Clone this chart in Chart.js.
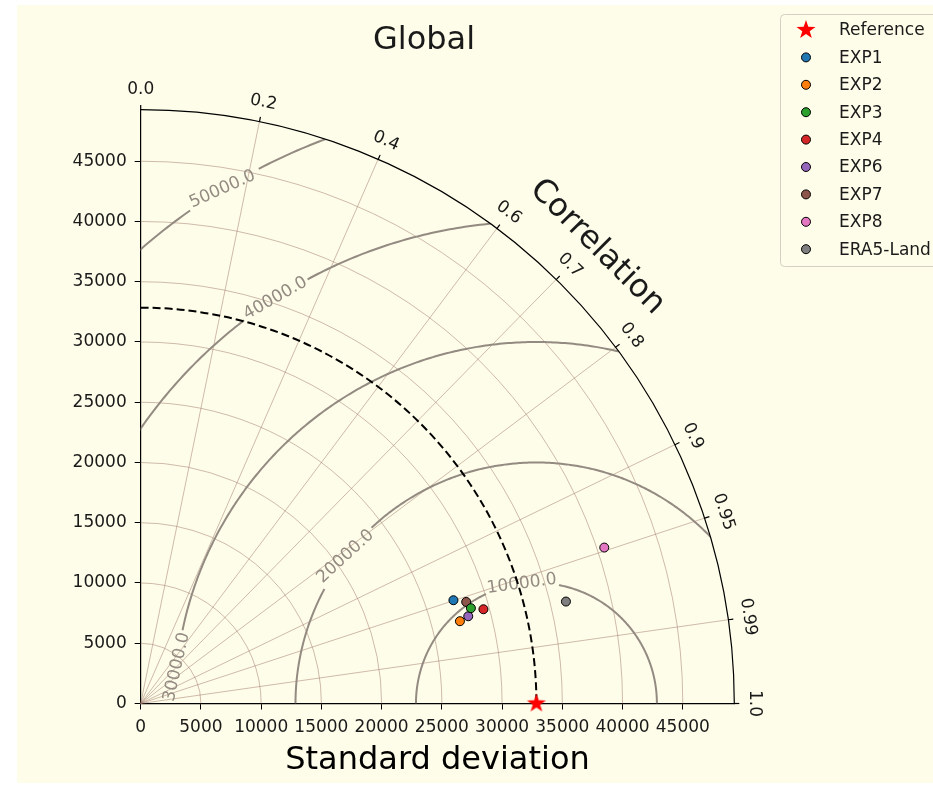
<!DOCTYPE html>
<html lang="en">
<head>
<meta charset="UTF-8">
<title>Global - Taylor diagram</title>
<style>
  html, body { margin: 0; padding: 0; background: #fff; }
  #wrap { width: 933px; height: 785px; position: relative; }
</style>
</head>
<body>
<div id="wrap"><canvas id="taylor"></canvas></div>

<script src="https://cdn.jsdelivr.net/npm/chart.js"></script>
<script>
  // reference std, the diagram runs out to 1.5x of it
  const refStd = 32850;
  const maxStd = 49275;

  const stdTicks = [0, 5000, 10000, 15000, 20000, 25000, 30000, 35000, 40000, 45000];
  const corrTicks = [0, 0.2, 0.4, 0.6, 0.7, 0.8, 0.9, 0.95, 0.99, 1.0];
  const corrLabels = ['0.0', '0.2', '0.4', '0.6', '0.7', '0.8', '0.9', '0.95', '0.99', '1.0'];
  const rmsLevels = [10000, 20000, 30000, 40000, 50000];

  const models = ['EXP1', 'EXP2', 'EXP3', 'EXP4', 'EXP6', 'EXP7', 'EXP8', 'ERA5-Land'];
  const modelX = [25960, 26500, 27410, 28450, 27190, 27020, 38480, 35300];
  const modelY = [8570, 6830, 7910, 7820, 7240, 8430, 12940, 8460];
  const modelColors = ['#1f77b4', '#ff7f0e', '#2ca02c', '#d62728', '#9467bd', '#8c564b', '#e377c2', '#7f7f7f'];

  const FONT = '"DejaVu Sans", sans-serif';
  const bgColor = '#fefde9';
  const gridColor = 'rgba(160, 120, 105, 0.5)';
  const rmsColor = '#938a81';

  // red star marker like matplotlib '*'
  const starImg = (function () {
    const c = document.createElement('canvas');
    c.width = 22; c.height = 22;
    const g = c.getContext('2d');
    g.fillStyle = '#ff0000';
    g.beginPath();
    for (let i = 0; i < 10; i++) {
      const r = i % 2 ? 3.9 : 10;
      const a = -Math.PI / 2 + i * Math.PI / 5;
      g.lineTo(11 + r * Math.cos(a), 11 + r * Math.sin(a));
    }
    g.closePath();
    g.fill();
    return c;
  })();

  const datasets = [{
    label: 'Reference',
    data: [{ x: refStd, y: 0 }],
    pointStyle: starImg,
    pointRadius: 10,
    backgroundColor: '#ff0000',
    borderColor: '#ff0000',
    clip: false
  }];
  models.forEach(function (m, i) {
    datasets.push({
      label: m,
      data: [{ x: modelX[i], y: modelY[i] }],
      pointStyle: 'circle',
      pointRadius: 4.5,
      borderWidth: 1,
      borderColor: '#000',
      backgroundColor: modelColors[i],
      clip: false
    });
  });

  // where the contour labels sit on each circle (deg around ref) and their rotation
  const rmsLabelPos = {
    10000: [97, -7.6],
    20000: [142.4, -42.4],
    30000: [174.2, -77.3],
    40000: [122.8, -29.5],
    50000: [121.4, -24.2]
  };

  const taylorPlugin = {
    id: 'taylor',
    beforeDraw(chart) {
      const ctx = chart.ctx;
      ctx.save();
      ctx.fillStyle = '#ffffff';
      ctx.fillRect(0, 0, chart.width, chart.height);
      ctx.fillStyle = bgColor;
      ctx.fillRect(17, 5, chart.width - 17, chart.height - 7);
      ctx.restore();
    },
    beforeDatasetsDraw(chart) {
      const ctx = chart.ctx;
      const xs = chart.scales.x, ys = chart.scales.y;
      const px = v => xs.getPixelForValue(v);
      const py = v => ys.getPixelForValue(v);
      const ox = px(0), oy = py(0);
      const kx = px(1000) - ox;
      const rPx = px(maxStd) - ox;

      ctx.save();

      // std arcs
      ctx.strokeStyle = gridColor;
      ctx.lineWidth = 1;
      stdTicks.forEach(function (s) {
        if (s === 0) return;
        ctx.beginPath();
        ctx.ellipse(ox, oy, px(s) - ox, oy - py(s), 0, -Math.PI / 2, 0);
        ctx.stroke();
      });
      // correlation rays
      corrTicks.forEach(function (c) {
        if (c === 0 || c === 1) return;
        const t = Math.acos(c);
        ctx.beginPath();
        ctx.moveTo(ox, oy);
        ctx.lineTo(px(maxStd * Math.cos(t)), py(maxStd * Math.sin(t)));
        ctx.stroke();
      });

      // centred RMS difference contours, clipped to the quarter disc
      ctx.save();
      ctx.beginPath();
      ctx.moveTo(ox, oy);
      ctx.ellipse(ox, oy, px(maxStd) - ox, oy - py(maxStd), 0, -Math.PI / 2, 0);
      ctx.closePath();
      ctx.clip();
      ctx.font = '17px ' + FONT;
      ctx.strokeStyle = rmsColor;
      ctx.lineWidth = 2;
      rmsLevels.forEach(function (R) {
        const txt = R.toFixed(1);
        const phi = rmsLabelPos[R][0] * Math.PI / 180;
        const half = ctx.measureText(txt).width / 2 + 2;
        const gap = half / (R * kx / 1000);
        ctx.beginPath();
        let pen = false;
        for (let i = 0; i <= 400; i++) {
          const a = Math.PI * i / 400;
          if (Math.abs(a - phi) < gap) { pen = false; continue; }
          const X = px(refStd + R * Math.cos(a)), Y = py(R * Math.sin(a));
          if (pen) ctx.lineTo(X, Y); else ctx.moveTo(X, Y);
          pen = true;
        }
        ctx.stroke();
      });
      ctx.restore();

      ctx.font = '17px ' + FONT;
      ctx.fillStyle = rmsColor;
      ctx.textAlign = 'center';
      ctx.textBaseline = 'middle';
      rmsLevels.forEach(function (R) {
        const pos = rmsLabelPos[R];
        const phi = pos[0] * Math.PI / 180;
        ctx.save();
        ctx.translate(px(refStd + R * Math.cos(phi)), py(R * Math.sin(phi)));
        ctx.rotate(pos[1] * Math.PI / 180);
        ctx.fillText(R.toFixed(1), 0, 0);
        ctx.restore();
      });

      // reference std arc (dashed)
      ctx.strokeStyle = '#000';
      ctx.lineWidth = 2;
      ctx.setLineDash([8, 4]);
      ctx.beginPath();
      ctx.ellipse(ox, oy, px(refStd) - ox, oy - py(refStd), 0, -Math.PI / 2, 0);
      ctx.stroke();
      ctx.setLineDash([]);

      // outer arc = correlation axis
      ctx.lineWidth = 1.2;
      ctx.beginPath();
      ctx.ellipse(ox, oy, px(maxStd) - ox, oy - py(maxStd), 0, -Math.PI / 2, 0);
      ctx.stroke();

      ctx.font = '17px ' + FONT;
      ctx.fillStyle = '#1a1a1a';
      corrTicks.forEach(function (c, i) {
        const t = Math.acos(c);
        const dx = Math.cos(t), dy = -Math.sin(t);
        ctx.beginPath();
        ctx.moveTo(ox + dx * rPx, oy + dy * rPx);
        ctx.lineTo(ox + dx * (rPx + 5), oy + dy * (rPx + 5));
        ctx.stroke();
        ctx.save();
        ctx.translate(ox + dx * (rPx + 20), oy + dy * (rPx + 20));
        ctx.rotate(Math.PI / 2 - t);
        ctx.fillText(corrLabels[i], 0, 0);
        ctx.restore();
      });

      // axis name along the arc
      ctx.font = '32px ' + FONT;
      ctx.save();
      ctx.translate(ox + Math.SQRT1_2 * (rPx + 52), oy - Math.SQRT1_2 * (rPx + 52));
      ctx.rotate(Math.PI / 4);
      ctx.fillText('Correlation', 0, 0);
      ctx.restore();

      ctx.textBaseline = 'alphabetic';
      ctx.fillText('Global', 424, 49);

      ctx.restore();
    },
    afterDraw(chart) {
      // legend, same look as the matplotlib one
      const ctx = chart.ctx;
      const ds = chart.data.datasets;
      ctx.save();
      ctx.fillStyle = bgColor;
      ctx.strokeStyle = '#d6cfc4';
      ctx.lineWidth = 1;
      ctx.beginPath();
      ctx.roundRect(780.5, 14.5, 200, 252, 4);
      ctx.fill();
      ctx.stroke();
      ctx.font = '17px ' + FONT;
      ctx.textBaseline = 'middle';
      ds.forEach(function (d, i) {
        const y = 30 + i * 27.4;
        if (d.pointStyle === starImg) {
          ctx.drawImage(starImg, 806 - 11, y - 11);
        } else {
          ctx.beginPath();
          ctx.arc(806, y, 4.5, 0, Math.PI * 2);
          ctx.fillStyle = d.backgroundColor;
          ctx.fill();
          ctx.strokeStyle = '#000';
          ctx.stroke();
        }
        ctx.fillStyle = '#1a1a1a';
        ctx.fillText(d.label, 839, y + 1);
      });
      ctx.restore();
    }
  };

  const tickFont = { family: FONT, size: 17 };

  new Chart(document.getElementById('taylor'), {
    type: 'scatter',
    data: { datasets: datasets },
    plugins: [taylorPlugin],
    options: {
      responsive: true,
      maintainAspectRatio: false,
      animation: false,
      events: [],
      layout: { padding: { left: 40.7, right: 198.7, top: 109.7, bottom: 1.5 } },
      plugins: { legend: { display: false }, tooltip: { enabled: false } },
      scales: {
        x: {
          type: 'linear',
          min: 0,
          max: maxStd,
          afterBuildTicks: s => { s.ticks = stdTicks.map(v => ({ value: v })); },
          afterFit: s => { s.height = 80; },
          ticks: { font: tickFont, color: '#1a1a1a', padding: 8, autoSkip: false, maxRotation: 0, callback: v => String(v) },
          grid: { drawOnChartArea: false, tickLength: 6, tickColor: '#000', tickWidth: 1 },
          border: { color: '#000', width: 1.2 },
          title: { display: true, text: 'Standard deviation', color: '#000', font: { family: FONT, size: 32 }, padding: { top: 0, bottom: 4 } }
        },
        y: {
          type: 'linear',
          min: 0,
          max: maxStd,
          afterBuildTicks: s => { s.ticks = stdTicks.map(v => ({ value: v })); },
          afterFit: s => { s.width = 100; },
          ticks: { font: tickFont, color: '#1a1a1a', padding: 8, autoSkip: false, callback: v => String(v) },
          grid: { drawOnChartArea: false, tickLength: 6, tickColor: '#000', tickWidth: 1 },
          border: { color: '#000', width: 1.2 }
        }
      }
    }
  });
</script>
</body>
</html>
